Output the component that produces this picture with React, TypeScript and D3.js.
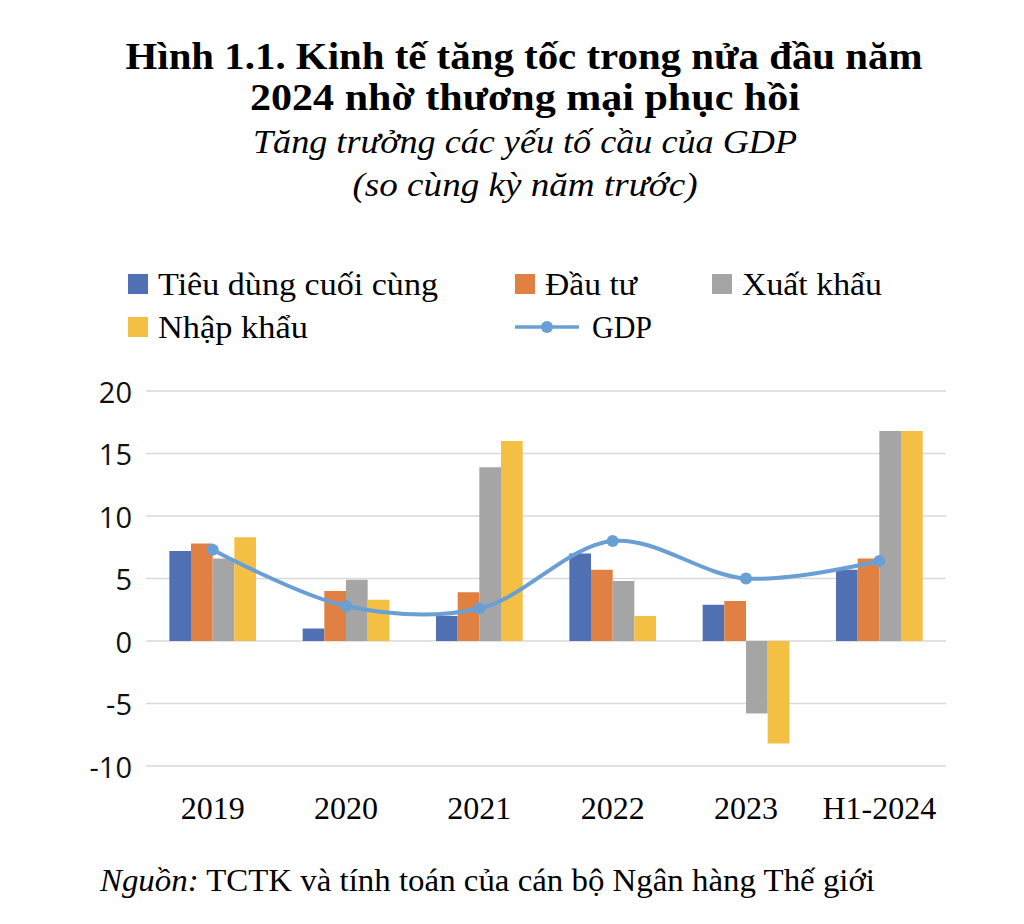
import { FC, useMemo } from "react";
import * as d3 from "d3";

const WIDTH = 1024, HEIGHT = 924;
const MARGIN = { top: 391, right: 78, bottom: 158, left: 146 };

const categories = ["2019", "2020", "2021", "2022", "2023", "H1-2024"];
const consumption = [7.2, 1.0, 2.0, 7.0, 2.9, 5.7];
const investment = [7.8, 4.0, 3.9, 5.7, 3.2, 6.6];
const exports = [6.6, 4.9, 13.9, 4.8, -5.8, 16.8];
const imports = [8.3, 3.3, 16.0, 2.0, -8.2, 16.8];
const gdp = [7.3, 2.8, 2.6, 8.0, 5.0, 6.4];
const yTicks = [-10, -5, 0, 5, 10, 15, 20];

const seriesNames = ["Tiêu dùng cuối cùng", "Đầu tư", "Xuất khẩu", "Nhập khẩu"];
const COLORS = ["#5170b4", "#e08143", "#a5a5a5", "#f4c043"];
const LINE_COLOR = "#6a9fd5";

const SERIF = "'Liberation Serif', 'DejaVu Serif', serif";
const SANS = "'Open Sans', 'DejaVu Sans', sans-serif";

const App: FC = () => {
  const boundsWidth = WIDTH - MARGIN.left - MARGIN.right;
  const barSeries = [consumption, investment, exports, imports];

  const xScale = useMemo(
    () => d3.scaleBand().domain(categories).range([0, boundsWidth]).paddingInner(0).paddingOuter(0),
    []
  );
  const yScale = useMemo(() => d3.scaleLinear().domain([-10, 20]).range([375, 0]), []);
  const inner = useMemo(
    () => d3.scaleBand().domain(d3.range(4).map(String)).range([0, xScale.bandwidth() * 0.65]),
    [xScale]
  );
  const groupOffset = (xScale.bandwidth() - xScale.bandwidth() * 0.65) / 2;

  const grid = yTicks.map((t) => (
    <g key={t}>
      <line x1={0} x2={boundsWidth} y1={yScale(t)} y2={yScale(t)} stroke="#d9d9d9" strokeWidth={1.5} />
      <text x={-14} y={yScale(t)} textAnchor="end" dominantBaseline="central" fontFamily={SANS} fontSize={29} fill="#111">
        {t}
      </text>
    </g>
  ));

  const bars = categories.map((c, i) => (
    <g key={c} transform={`translate(${(xScale(c) ?? 0) + groupOffset},0)`}>
      {barSeries.map((s, j) => {
        const v = s[i];
        return (
          <rect
            key={j}
            x={inner(String(j))}
            y={yScale(Math.max(0, v))}
            width={inner.bandwidth()}
            height={Math.abs(yScale(v) - yScale(0))}
            fill={COLORS[j]}
          />
        );
      })}
    </g>
  ));

  const cx = (i: number) => (xScale(categories[i]) ?? 0) + xScale.bandwidth() / 2;
  const linePath = d3
    .line<number>()
    .x((_, i) => cx(i))
    .y((d) => yScale(d))
    .curve(d3.curveCatmullRom.alpha(0.5))(gdp);

  const legendItems = [
    { x: 128, y: 284, kind: "rect", color: COLORS[0], label: seriesNames[0], w: 280 },
    { x: 515, y: 284, kind: "rect", color: COLORS[1], label: seriesNames[1], w: 92 },
    { x: 712, y: 284, kind: "rect", color: COLORS[2], label: seriesNames[2], w: 140 },
    { x: 128, y: 327, kind: "rect", color: COLORS[3], label: seriesNames[3], w: 150 },
    { x: 515, y: 327, kind: "line", color: LINE_COLOR, label: "GDP", w: 60 },
  ];

  return (
    <svg width={WIDTH} height={HEIGHT} style={{ position: "absolute", left: 0, top: 0, background: "#fff" }}>
      <rect width={WIDTH} height={HEIGHT} fill="#fff" />
      <g fontFamily={SERIF} textAnchor="middle" fill="#000">
        <text x={524} y={69} fontSize={37} fontWeight="bold" textLength={797} lengthAdjust="spacingAndGlyphs">
          Hình 1.1. Kinh tế tăng tốc trong nửa đầu năm
        </text>
        <text x={525} y={110} fontSize={37} fontWeight="bold" textLength={550} lengthAdjust="spacingAndGlyphs">
          2024 nhờ thương mại phục hồi
        </text>
        <text x={525} y={153} fontSize={34} fontStyle="italic" textLength={544} lengthAdjust="spacingAndGlyphs">
          Tăng trưởng các yếu tố cầu của GDP
        </text>
        <text x={525} y={196} fontSize={34} fontStyle="italic" textLength={345} lengthAdjust="spacingAndGlyphs">
          (so cùng kỳ năm trước)
        </text>
      </g>

      {legendItems.map((d) => (
        <g key={d.label} transform={`translate(${d.x},${d.y})`}>
          {d.kind === "rect" ? (
            <rect x={0} y={-10} width={20} height={20} fill={d.color} />
          ) : (
            <g>
              <line x1={0} x2={64} y1={0} y2={0} stroke={d.color} strokeWidth={3.5} />
              <circle cx={32} cy={0} r={6} fill={d.color} />
            </g>
          )}
          <text
            x={d.kind === "rect" ? 30 : 77}
            y={0}
            dominantBaseline="central"
            fontFamily={SERIF}
            fontSize={32}
            textLength={d.w}
            lengthAdjust="spacingAndGlyphs"
          >
            {d.label}
          </text>
        </g>
      ))}

      <g transform={`translate(${MARGIN.left},${MARGIN.top})`}>
        {grid}
        {bars}
        <path d={linePath ?? ""} fill="none" stroke={LINE_COLOR} strokeWidth={4} />
        {gdp.map((v, i) => (
          <circle key={i} cx={cx(i)} cy={yScale(v)} r={6} fill={LINE_COLOR} />
        ))}
        {categories.map((c) => (
          <text
            key={c}
            x={(xScale(c) ?? 0) + xScale.bandwidth() / 2}
            y={428}
            textAnchor="middle"
            fontFamily={SERIF}
            fontSize={32}
          >
            {c}
          </text>
        ))}
      </g>

      <text x={100} y={891} fontFamily={SERIF} fontSize={32} textLength={775} lengthAdjust="spacingAndGlyphs">
        <tspan fontStyle="italic">Nguồn:</tspan> TCTK và tính toán của cán bộ Ngân hàng Thế giới
      </text>
    </svg>
  );
};

export default App;
